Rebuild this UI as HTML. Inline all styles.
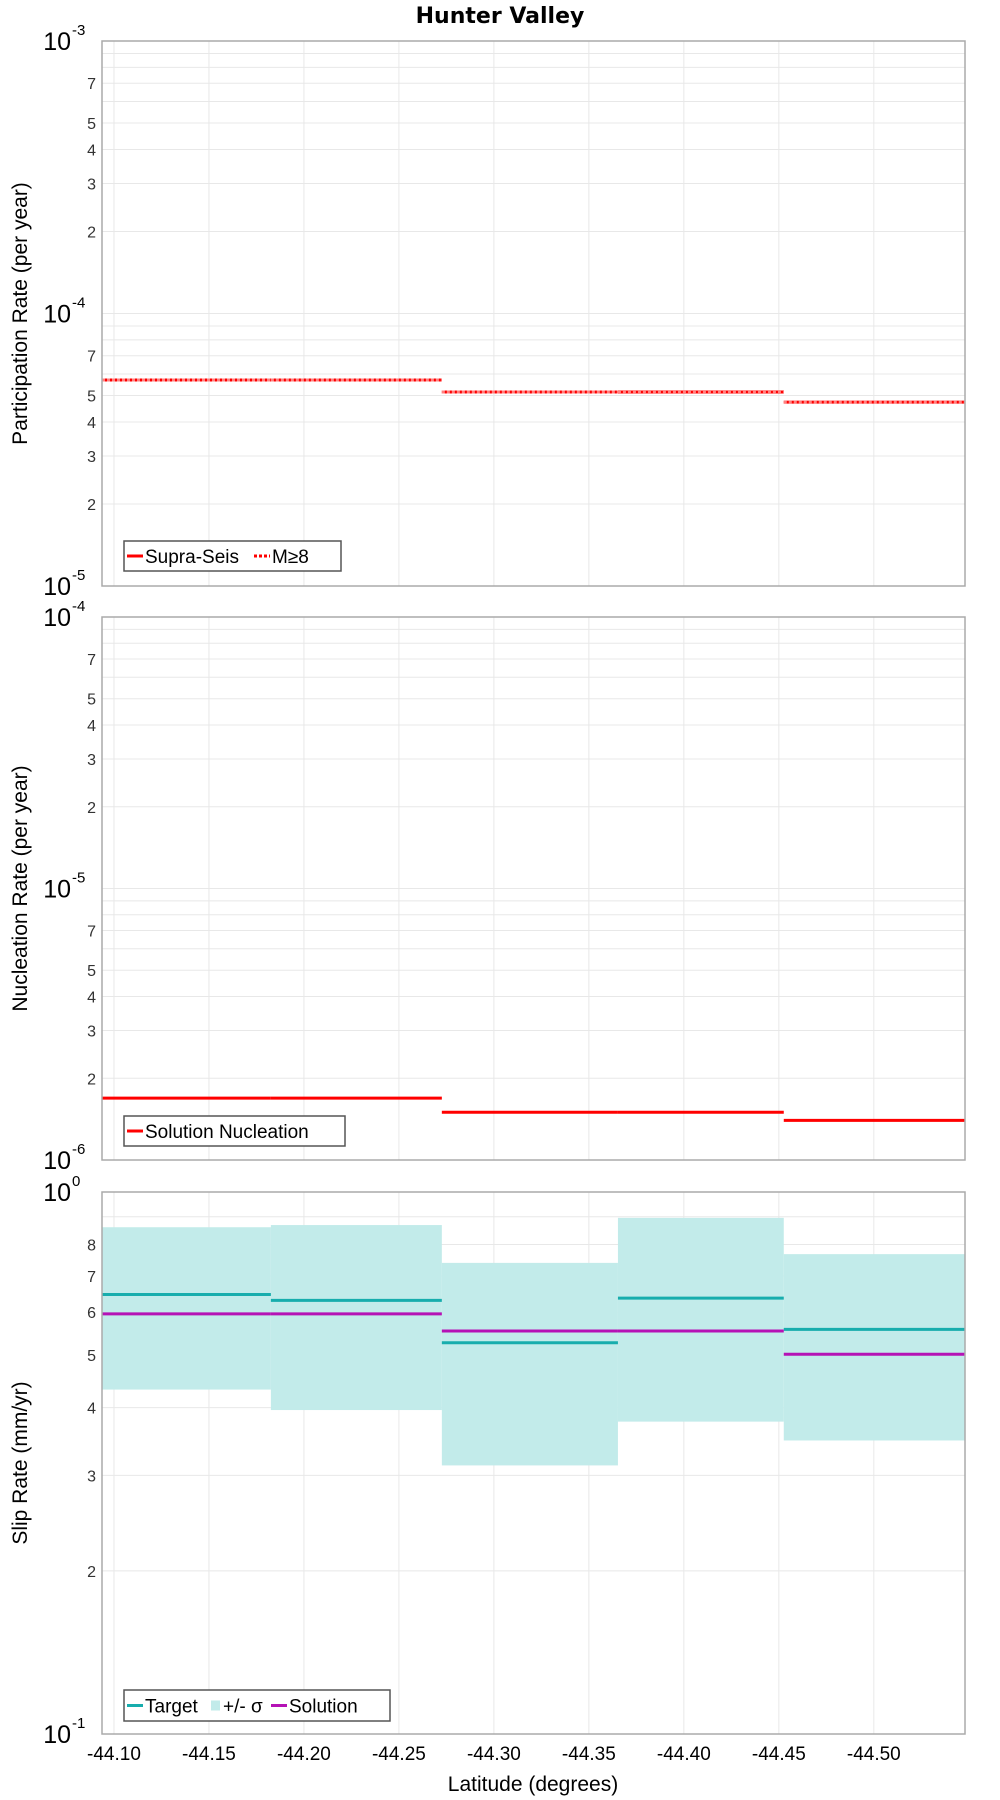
<!DOCTYPE html>
<html><head><meta charset="utf-8"><style>
html,body{margin:0;padding:0;background:#fff}
svg{display:block;font-family:"Liberation Sans","DejaVu Sans",sans-serif}
</style></head><body>
<svg id="chart" width="1000" height="1800" viewBox="0 0 1000 1800" xmlns="http://www.w3.org/2000/svg">
<text x="500" y="23" text-anchor="middle" font-size="22" font-weight="bold" font-family="DejaVu Sans, sans-serif">Hunter Valley</text>
<g id="root"></g>
</svg>
<script>
// Shared x data (latitude)
const xTicks = [-44.10,-44.15,-44.20,-44.25,-44.30,-44.35,-44.40,-44.45,-44.50];
const sectionBounds = [-44.0937,-44.1826,-44.2726,-44.3653,-44.4526,-44.548];
// Panel 1: participation
const supraSeis = [5.7e-5,5.7e-5,5.15e-5,5.15e-5,4.73e-5];
const mGe8 = [5.7e-5,5.7e-5,5.15e-5,5.17e-5,4.73e-5];
// Panel 2: nucleation
const nucleation = [1.69e-6,1.69e-6,1.50e-6,1.50e-6,1.40e-6];
// Panel 3: slip rate
const slipTarget = [0.647,0.631,0.527,0.637,0.558];
const slipUpper = [0.861,0.869,0.740,0.896,0.768];
const slipLower = [0.432,0.396,0.313,0.377,0.348];
const slipSolution = [0.596,0.596,0.554,0.554,0.502];

const NS="http://www.w3.org/2000/svg";
const root=document.getElementById('root');
const L=102,R=965;
const xMin=-44.0937,xMax=-44.548;
function xs(v){return L+(v-xMin)/(xMax-xMin)*(R-L);}
function mk(tag,attrs,parent){const e=document.createElementNS(NS,tag);for(const k in attrs)e.setAttribute(k,attrs[k]);(parent||root).appendChild(e);return e;}

function panel(top,bot,decMin,decMax,minorLabels,yTitle,name){
  const g=mk('g',{});
  
  
  const ys=v=>bot-(Math.log10(v)-decMin)/(decMax-decMin)*(bot-top);
  // grid
  for(let d=decMin;d<decMax;d++){for(let m=1;m<=10;m++){const y=ys(m*Math.pow(10,d));
    const ln=mk('line',{x1:L,x2:R,y1:y,y2:y,stroke:'#e8e8e8','stroke-width':1},g);
    }}
  xTicks.forEach(t=>{const ln=mk('line',{x1:xs(t),x2:xs(t),y1:top,y2:bot,stroke:'#e8e8e8','stroke-width':1},g);
    });
  // labels
  for(let d=decMin;d<=decMax;d++){const y=ys(Math.pow(10,d));
    const t=mk('text',{x:L-31,y:y+9,'text-anchor':'end','font-size':25,fill:'#000'},g);
    
    t.textContent='10';
    const s=mk('text',{x:L-30,y:y-6,'font-size':15,fill:'#000'},g);
    
    s.textContent=String(d);
    if(d<decMax){minorLabels.forEach(m=>{const yy=ys(m*Math.pow(10,d));
      const mt=mk('text',{x:L-6,y:yy+6,'text-anchor':'end','font-size':16,fill:'#333'},g);
      
      mt.textContent=String(m);});}
  }
  const yt=mk('text',{x:0,y:0,'text-anchor':'middle','font-size':21,fill:'#000',transform:`translate(27,${(top+bot)/2}) rotate(-90)`},g);
  
  yt.textContent=yTitle;
  return {g,ys,top,bot};
}
function frame(p){const r=mk('rect',{x:L,y:p.top,width:R-L,height:p.bot-p.top,fill:'none',stroke:'#aaa','stroke-width':1.5},p.g);
  }
function steps(p,vals,color,name,dash){vals.forEach((v,i)=>{const y=p.ys(v);
  const ln=mk('line',{x1:xs(sectionBounds[i]),x2:xs(sectionBounds[i+1]),y1:y,y2:y,stroke:color,'stroke-width':3},p.g);
  if(dash)ln.setAttribute('stroke-dasharray',dash);
  });}
function legend(p,x,y,w,h,items){const lg=mk('g',{},p.g);
  
  mk('rect',{x,y,width:w,height:h,fill:'#fff',stroke:'#555','stroke-width':1.5},lg);
  let cx=x+3;items.forEach(it=>{
    if(it.box){mk('rect',{x:cx+2,y:y+h/2-5,width:9,height:10,fill:it.color},lg);cx+=14;}
    else{const l=mk('line',{x1:cx,x2:cx+16,y1:y+h/2,y2:y+h/2,stroke:it.color,'stroke-width':3},lg);if(it.dash)l.setAttribute('stroke-dasharray',it.dash);cx+=18;}
    const t=mk('text',{x:cx,y:y+h/2+7,'font-size':19,fill:'#000'},lg);
    
    t.textContent=it.label;cx+=it.w;});}

// Panel 1
const p1=panel(41,586,-5,-3,[2,3,4,5,7],'Participation Rate (per year)','participation');
steps(p1,supraSeis,'#ff0000','supra-seis');
steps(p1,mGe8,'#ff8080','m-ge-8','3,2');
frame(p1);
legend(p1,124,541,217,30,[{color:'#ff0000',label:'Supra-Seis',w:109},{color:'#ff0000',label:'M≥8',dash:'3,2',w:50}]);
// Panel 2
const p2=panel(617,1160,-6,-4,[2,3,4,5,7],'Nucleation Rate (per year)','nucleation');
steps(p2,nucleation,'#ff0000','nucleation');
frame(p2);
legend(p2,124,1116,221,30,[{color:'#ff0000',label:'Solution Nucleation',w:200}]);
// Panel 3
const p3=panel(1192,1734,-1,0,[2,3,4,5,6,7,8],'Slip Rate (mm/yr)','slip-rate');
slipUpper.forEach((u,i)=>{const y1=p3.ys(u),y2=p3.ys(slipLower[i]);const x1=xs(sectionBounds[i]),x2=xs(sectionBounds[i+1]);
  const r=mk('rect',{x:x1,y:y1,width:x2-x1,height:y2-y1,fill:'#c2ebea'},p3.g);
  });
steps(p3,slipTarget,'#17adad','target');
steps(p3,slipSolution,'#b512b5','solution');
frame(p3);
legend(p3,124,1690,266,31,[{color:'#17adad',label:'Target',w:64},{color:'#c2ebea',box:true,label:'+/- σ',w:48},{color:'#b512b5',label:'Solution',w:90}]);
// X ticks
xTicks.forEach(t=>{const tx=mk('text',{x:xs(t),y:1760,'text-anchor':'middle','font-size':19,fill:'#000'});
  
  tx.textContent=t.toFixed(2);});
const xt=mk('text',{x:533,y:1791,'text-anchor':'middle','font-size':21,fill:'#000'});

xt.textContent='Latitude (degrees)';
</script>
</body></html>
